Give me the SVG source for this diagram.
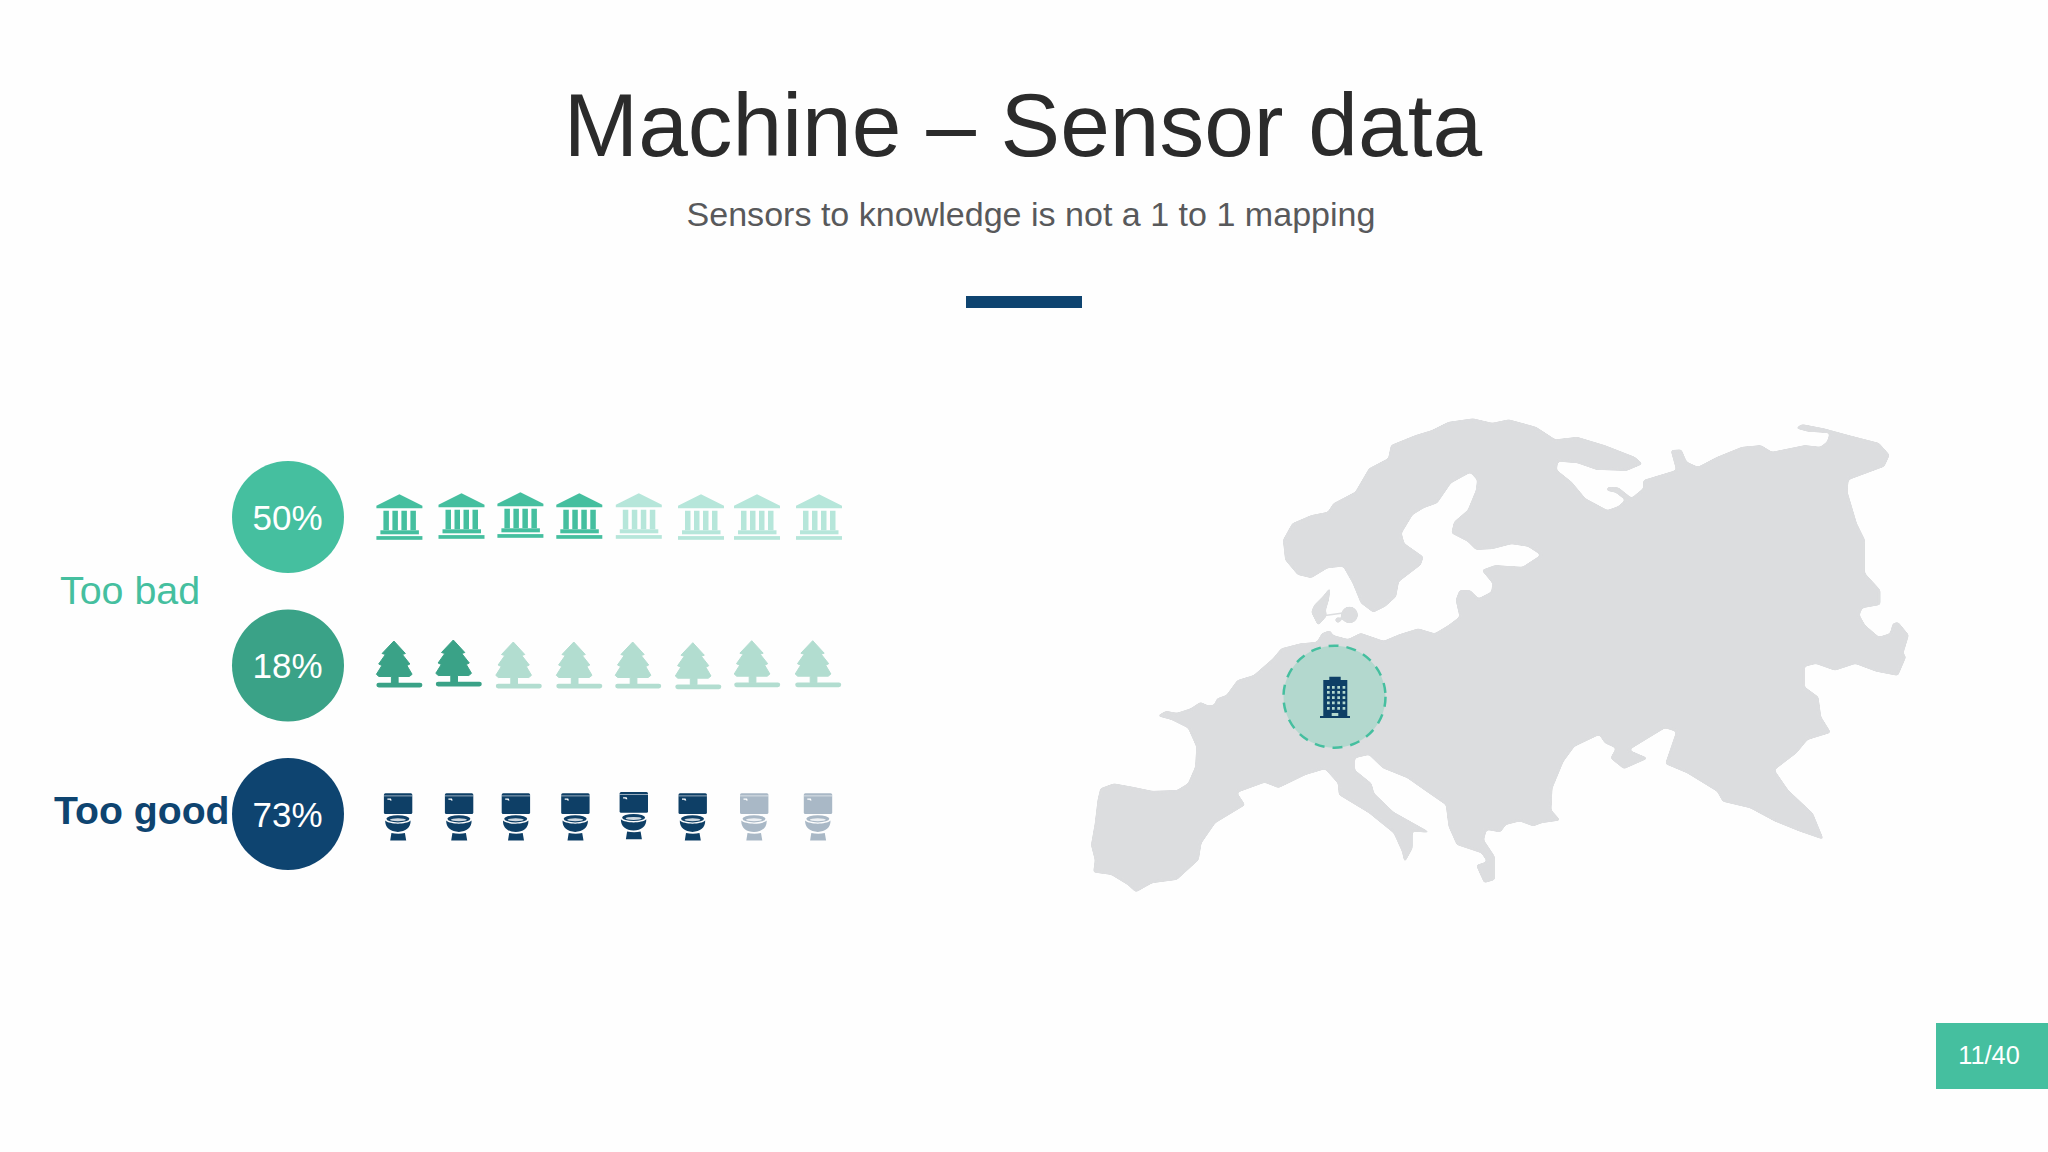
<svg xmlns="http://www.w3.org/2000/svg" width="2048" height="1152" viewBox="0 0 2048 1152">
<style>
text{font-family:"Liberation Sans",Arial,sans-serif}
.pct{font-size:35px;fill:#fff;text-anchor:middle}
.a{color:#45BF9F}.a2{color:#B6E6DA}
.b{color:#3AA287}.b2{color:#B2DDD0}
.c{color:#0E3F66}.c2{color:#A9B8C6}
</style>
<defs>
<filter id="smooth" filterUnits="userSpaceOnUse" x="1060" y="400" width="880" height="520" color-interpolation-filters="sRGB">
<feGaussianBlur stdDeviation="1.6"/>
<feColorMatrix type="matrix" values="1 0 0 0 0 0 1 0 0 0 0 0 1 0 0 0 0 0 7 -3"/>
</filter>
<g id="bank" fill="currentColor">
<path d="M23 0L46 11.5V14H0V11.5Z"/>
<path d="M7 16.5h5.5V36H7zM16 16.5h5.5V36H16zM25 16.5h5.5V36H25zM34 16.5h5.5V36H34z"/>
<rect x="4" y="36" width="38.5" height="4"/>
<rect x="0" y="41.8" width="46" height="3.7"/>
</g>
<g id="tree" fill="currentColor">
<path d="M17.5 0L29 12.5L26 13.5L33.5 23L30.5 24.5L35.7 33.3L33 35.5H21.7V42H15V35.5H2.5L0 33.3L5.5 24.5L2.3 23L9 13.5L5.7 12.5Z" stroke="currentColor" stroke-width="1" stroke-linejoin="round"/>
<rect x="0" y="41.7" width="46" height="4.8" rx="2.4"/>
</g>
<g id="toilet">
<rect width="28.4" height="20.7" rx="1.5" fill="currentColor"/>
<rect y="2.2" width="28.4" height="0.8" fill="#fff" opacity=".7"/>
<path d="M3.5 5.2h3.5l.8 2h-1.6l-.4-.8h-2.3z" fill="#fff"/>
<ellipse cx="14" cy="25.5" rx="11.5" ry="3.6" fill="currentColor"/>
<ellipse cx="14" cy="26.4" rx="8" ry="1.5" fill="#fff" opacity=".8"/>
<path d="M1.3 27.3C6 31.5 22 31.5 26.7 27.3C27 34.5 21.5 38.6 14 38.6C6.5 38.6 1 34.5 1.3 27.3Z" fill="currentColor"/>
<path d="M7.5 39.6C12 40.6 17 40.6 21 39.6L22.3 47.3H6.3Z" fill="currentColor"/>
</g>
</defs>
<rect id="background" width="2048" height="1152" fill="#FEFEFE"/>

<g id="title">
<text x="1023" y="156" font-size="89.3" fill="#2B2B2B" text-anchor="middle">Machine – Sensor data</text>
<text x="1031" y="226" font-size="34.05" fill="#58595B" text-anchor="middle">Sensors to knowledge is not a 1 to 1 mapping</text>
<rect x="966" y="296" width="116" height="12" fill="#0E4470"/>
</g>

<g id="label-too-bad"><text x="60" y="604" font-size="39.4" fill="#45BF9F">Too bad</text></g>
<g id="label-too-good"><text x="54" y="824" font-size="39.2" font-weight="700" fill="#0E4470">Too good</text></g>

<g id="row-50">
<circle cx="288" cy="517" r="56" fill="#45BF9F"/>
<text class="pct" x="287.5" y="529.5">50%</text>
<use href="#bank" class="a" x="376.4" y="494.3"/>
<use href="#bank" class="a" x="438.5" y="493.3"/>
<use href="#bank" class="a" x="497.4" y="492.3"/>
<use href="#bank" class="a" x="556.3" y="493.3"/>
<use href="#bank" class="a2" x="615.8" y="493.3"/>
<use href="#bank" class="a2" x="678" y="494.3"/>
<use href="#bank" class="a2" x="734" y="494.3"/>
<use href="#bank" class="a2" x="796" y="494.3"/>
</g>

<g id="row-18">
<circle cx="288" cy="665.5" r="56" fill="#3AA287"/>
<text class="pct" x="287.5" y="678">18%</text>
<use href="#tree" class="b" x="376.4" y="641"/>
<use href="#tree" class="b" x="435.8" y="640"/>
<use href="#tree" class="b2" x="495.8" y="642"/>
<use href="#tree" class="b2" x="556.3" y="642"/>
<use href="#tree" class="b2" x="615.2" y="642"/>
<use href="#tree" class="b2" x="675.3" y="642.7"/>
<use href="#tree" class="b2" x="734.2" y="640.7"/>
<use href="#tree" class="b2" x="795.2" y="640.7"/>
</g>

<g id="row-73">
<circle cx="288" cy="814" r="56" fill="#0E4470"/>
<text class="pct" x="287.5" y="827">73%</text>
<use href="#toilet" class="c" x="383.9" y="793.3"/>
<use href="#toilet" class="c" x="444.9" y="793.3"/>
<use href="#toilet" class="c" x="501.7" y="793.3"/>
<use href="#toilet" class="c" x="561.2" y="793.3"/>
<use href="#toilet" class="c" x="619.6" y="792"/>
<use href="#toilet" class="c" x="678.5" y="793.3"/>
<use href="#toilet" class="c2" x="740" y="793.3"/>
<use href="#toilet" class="c2" x="803.8" y="793.3"/>
</g>

<g id="map">
<g filter="url(#smooth)" fill="#DCDDDF">
<path transform="translate(1070 400) scale(.5484 .3333)" d="M120 1478L105 1455L75 1425L42 1418L45 1380L38 1335L45 1270L50 1200L55 1165L80 1150L115 1160L150 1172L195 1170L215 1150L228 1100L230 1040L215 985L185 960L158 948L175 932L195 938L220 925L238 905L250 915L262 915L268 895L285 885L305 840L335 825L370 775L385 745L420 730L450 725L459 700L474 690L480 705L507 717L530 698L572 722L600 703L635 685L665 700L690 675L710 650L703 600L710 570L730 570L745 595L768 575L770 550L750 510L775 495L825 500L858 465L835 440L805 433L770 448L740 450L725 425L695 400L700 365L725 330L740 270L742 240L730 218L695 250L670 310L645 325L625 345L605 400L610 430L645 470L640 495L600 545L595 590L575 620L553 638L530 610L515 550L498 500L470 505L440 535L415 525L392 480L388 420L405 370L440 345L470 335L480 310L520 275L545 205L580 175L585 135L630 105L660 90L690 65L735 55L770 68L800 58L850 80L885 118L925 110L975 135L1030 170L1045 192L1015 213L960 210L925 190L890 185L888 210L915 245L940 295L980 330L1000 318L1012 300L995 278L978 272L980 260L1000 262L1024 293L1045 265L1045 240L1105 210L1095 150L1115 148L1125 185L1145 200L1180 170L1225 140L1260 135L1280 155L1340 135L1368 140L1380 125L1385 100L1345 95L1322 85L1335 72L1375 85L1420 105L1475 128L1495 165L1485 200L1420 240L1418 275L1435 370L1450 420L1450 520L1478 570L1478 615L1445 625L1440 645L1450 675L1475 710L1495 700L1500 670L1510 665L1530 705L1520 760L1525 770L1510 828L1470 815L1432 792L1395 812L1360 792L1340 800L1340 860L1365 890L1370 950L1388 998L1345 1020L1325 1060L1285 1110L1310 1170L1355 1240L1375 1320L1330 1295L1285 1265L1240 1225L1190 1205L1180 1175L1125 1120L1085 1092L1105 995L1085 985L1055 1015L1020 1050L1055 1075L1010 1108L985 1075L995 1045L975 1030L965 1005L920 1040L900 1085L880 1165L878 1230L895 1262L860 1270L845 1280L820 1265L795 1275L785 1298L760 1290L755 1320L775 1370L775 1440L755 1450L740 1395L760 1385L750 1360L705 1335L690 1280L685 1215L650 1175L615 1135L570 1105L545 1065L520 1075L520 1110L550 1150L555 1180L590 1235L660 1300L625 1295L625 1345L610 1390L605 1355L590 1300L545 1240L490 1185L488 1150L465 1108L430 1125L380 1165L355 1148L305 1178L320 1215L265 1270L240 1330L235 1380L195 1440L150 1450Z"/>
<path d="M1331 586L1329 600L1326 610L1327 616L1318 626L1311 612L1314 605L1323 596Z"/>
<ellipse cx="1349.5" cy="615" rx="8.5" ry="8.5"/>
<ellipse cx="1338" cy="620" rx="3" ry="3"/>
</g>
<path d="M1325 615.5L1343 613" fill="none" stroke="#DCDDDF" stroke-width="1.6"/>
</g>

<g id="location-marker">
<circle cx="1334.5" cy="696.7" r="51" fill="#B3D8CE" stroke="#45BF9F" stroke-width="2.5" stroke-dasharray="10 8"/>
<path fill="#0E3F66" d="M1329.3 676.7h11.4v3.3h6.6v36h2.7v2h-30v-2h3.3v-36h6Z"/>
<path fill="#B3D8CE" d="M1327 686h2.7v2.7h-2.7zM1332 686h2.7v2.7h-2.7zM1337.3 686h2.7v2.7h-2.7zM1342.6 686h2.7v2.7h-2.7zM1327 691h2.7v2.7h-2.7zM1332 691h2.7v2.7h-2.7zM1337.3 691h2.7v2.7h-2.7zM1342.6 691h2.7v2.7h-2.7zM1327 696.3h2.7v2.7h-2.7zM1332 696.3h2.7v2.7h-2.7zM1337.3 696.3h2.7v2.7h-2.7zM1342.6 696.3h2.7v2.7h-2.7zM1327 701.6h2.7v2.7h-2.7zM1332 701.6h2.7v2.7h-2.7zM1337.3 701.6h2.7v2.7h-2.7zM1342.6 701.6h2.7v2.7h-2.7zM1327 707h2.7v2.7h-2.7zM1332 707h2.7v2.7h-2.7zM1337.3 707h2.7v2.7h-2.7zM1342.6 707h2.7v2.7h-2.7zM1331.7 713h6.6v3h-6.6z"/>
</g>

<g id="page-badge">
<rect x="1936" y="1023" width="112" height="66" fill="#45BF9F"/>
<text x="1989" y="1064" font-size="25.3" fill="#fff" text-anchor="middle">11/40</text>
</g>
</svg>
